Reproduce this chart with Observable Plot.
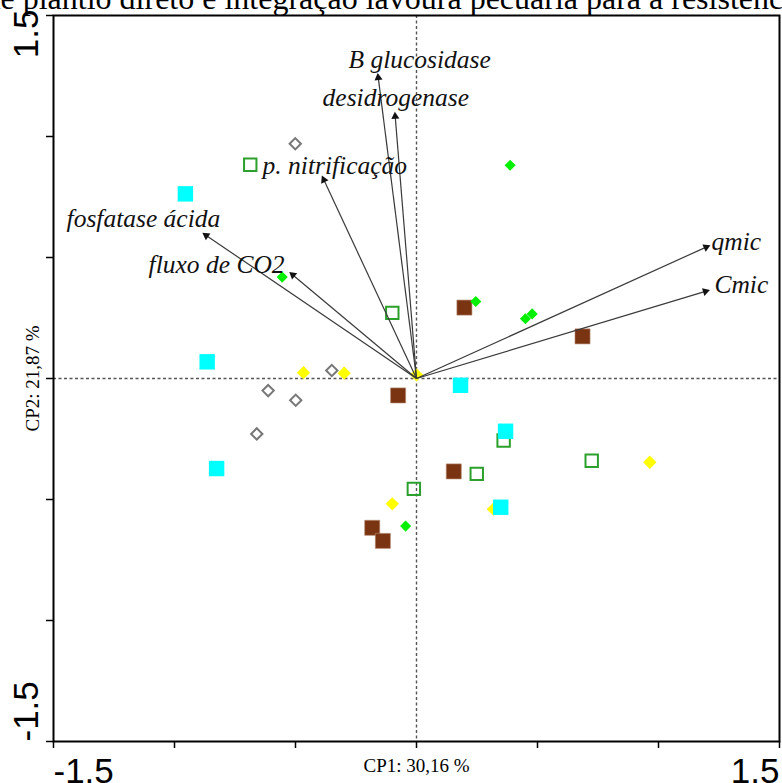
<!DOCTYPE html>
<html><head><meta charset="utf-8">
<script src="https://cdn.jsdelivr.net/npm/d3@7"></script>
<script src="https://cdn.jsdelivr.net/npm/@observablehq/plot@0.6"></script>
<style>body{margin:0;background:#fff;overflow:hidden} svg{display:block}</style>
</head><body><div id="chart"></div>
<script>
// ---- text ----
const titleText = "de plantio direto e integração lavoura pecuária para a resistência do solo";
const xAxisTitle = "CP1: 30,16 %";
const yAxisTitle = "CP2: 21,87 %";
const tickValues = [-1.5, -1, -0.5, 0, 0.5, 1, 1.5];
const labelledTicks = [-1.5, 1.5];
const labelledTickText = ["-1.5", "1.5"];

// ---- variable vectors (loadings) ----
const vecNames = ["B glucosidase", "desidrogenase", "p. nitrificação", "fosfatase ácida", "fluxo de CO2", "qmic", "Cmic"];
const vecX = [-0.158, -0.088, -0.383, -0.869, -0.511, 1.197, 1.194];
const vecY = [1.243, 1.083, 0.821, 0.591, 0.428, 0.543, 0.360];
const labelX = [-0.281, -0.388, -0.636, -1.446, -1.107, 1.219, 1.231];
const labelY = [1.285, 1.128, 0.847, 0.628, 0.438, 0.533, 0.355];

// ---- sample scores by group ----
const brownX = [0.198, 0.686, -0.076, 0.154, -0.183, -0.139];
const brownY = [0.293, 0.174, -0.070, -0.384, -0.617, -0.671];
const greenDiaX = [0.387, -0.555, 0.245, 0.450, 0.478, -0.045];
const greenDiaY = [0.881, 0.419, 0.318, 0.247, 0.267, -0.610];
const grayDiaX = [-0.501, -0.613, -0.499, -0.350, -0.660];
const grayDiaY = [0.970, -0.050, -0.090, 0.033, -0.229];
const yellowX = [-0.467, -0.299, 0.000, -0.100, 0.318, 0.964];
const yellowY = [0.024, 0.022, 0.015, -0.518, -0.540, -0.346];
const greenSqX = [-0.687, -0.100, 0.360, 0.249, -0.011, 0.724];
const greenSqY = [0.883, 0.271, -0.256, -0.394, -0.456, -0.340];
const cyanX = [-0.955, -0.865, -0.826, 0.182, 0.368, 0.348];
const cyanY = [0.763, 0.069, -0.372, -0.028, -0.218, -0.532];

const pts = (xs, ys) => xs.map((x, i) => ({x, y: ys[i]}));
const vectors = vecNames.map((name, i) => ({
  name, x: vecX[i], y: vecY[i], lx: labelX[i], ly: labelY[i],
  angle: Math.atan2(vecX[i], vecY[i]) * 180 / Math.PI
}));
const tickLab = labelledTicks.map((v, i) => ({v, t: labelledTickText[i]}));
const lowLab = tickLab.filter(d => d.v < 0);
const highLab = tickLab.filter(d => d.v > 0);

const serif = "'Liberation Serif', 'Times New Roman', serif";
const sans = "'Liberation Sans', Arial, sans-serif";
const numSize = 35;

const chart = Plot.plot({
  width: 782, height: 783,
  marginLeft: 53, marginRight: 3, marginTop: 15, marginBottom: 42,
  x: {domain: [-1.5, 1.5], axis: null},
  y: {domain: [-1.5, 1.5], axis: null},
  style: {background: "white"},
  marks: [
    Plot.ruleY([0], {stroke: "#555", strokeWidth: 1.4, strokeDasharray: "3,2.5"}),
    Plot.ruleX([0], {stroke: "#555", strokeWidth: 1.4, strokeDasharray: "3,2.5"}),
    Plot.dot(pts(brownX, brownY), {x: "x", y: "y", symbol: "square", r: 8.5, fill: "#7b3412", stroke: "#b58a70", strokeWidth: 0.6}),
    Plot.dot(pts(greenDiaX, greenDiaY), {x: "x", y: "y", symbol: "diamond2", r: 5, fill: "#00f000"}),
    Plot.dot(pts(grayDiaX, grayDiaY), {x: "x", y: "y", symbol: "diamond2", r: 5.1, fill: "none", stroke: "#777", strokeWidth: 2}),
    Plot.dot(pts(yellowX, yellowY), {x: "x", y: "y", symbol: "diamond2", r: 6, fill: "#ffff00"}),
    Plot.dot(pts(greenSqX, greenSqY), {x: "x", y: "y", symbol: "square", r: 7, fill: "none", stroke: "#2ca02c", strokeWidth: 2}),
    Plot.dot(pts(cyanX, cyanY), {x: "x", y: "y", symbol: "square", r: 8.7, fill: "#00ffff"}),
    Plot.link(vectors, {x1: 0, y1: 0, x2: "x", y2: "y", stroke: "#3a3a3a", strokeWidth: 1.2}),
    Plot.dot(vectors, {x: "x", y: "y", symbol: "triangle", r: 3, fill: "#111", rotate: "angle"}),
    Plot.text(vectors, {x: "lx", y: "ly", text: "name", textAnchor: "start", lineAnchor: "bottom",
      fontFamily: serif, fontStyle: "italic", fontSize: 25.5, fill: "#111"}),
    Plot.frame({stroke: "black", strokeWidth: 2}),
    Plot.axisX({ticks: tickValues, tickSize: 7, tickFormat: () => "", stroke: "black", strokeWidth: 1.5}),
    Plot.axisY({ticks: tickValues, tickSize: 7, tickFormat: () => "", stroke: "black", strokeWidth: 1.5}),
    // x tick labels
    Plot.text(lowLab, {x: "v", text: "t", frameAnchor: "bottom", textAnchor: "start", lineAnchor: "bottom", dy: 41, fontFamily: sans, fontSize: numSize, fill: "black"}),
    Plot.text(highLab, {x: "v", text: "t", frameAnchor: "bottom", textAnchor: "end", lineAnchor: "bottom", dy: 41, fontFamily: sans, fontSize: numSize, fill: "black"}),
    // y tick labels (rotated)
    Plot.text(highLab, {y: "v", text: "t", frameAnchor: "left", textAnchor: "end", lineAnchor: "middle", rotate: -90, dx: -27, dy: -6, fontFamily: sans, fontSize: numSize, fill: "black"}),
    Plot.text(lowLab, {y: "v", text: "t", frameAnchor: "left", textAnchor: "start", lineAnchor: "middle", rotate: -90, dx: -27, dy: 0, fontFamily: sans, fontSize: numSize, fill: "black"}),
    // axis titles
    Plot.text([xAxisTitle], {frameAnchor: "bottom", textAnchor: "middle", lineAnchor: "bottom", dy: 30, fontFamily: serif, fontSize: 19, fill: "black"}),
    Plot.text([yAxisTitle], {frameAnchor: "left", textAnchor: "middle", lineAnchor: "middle", rotate: -90, dx: -21, fontFamily: serif, fontSize: 19, fill: "black"}),
    // clipped title line at the very top
    Plot.text([titleText], {frameAnchor: "top-left", textAnchor: "start", lineAnchor: "bottom", dx: -69, dy: -7, fontFamily: serif, fontSize: 32, fill: "black"})
  ]
});
document.getElementById("chart").appendChild(chart);
</script>
</body></html>
